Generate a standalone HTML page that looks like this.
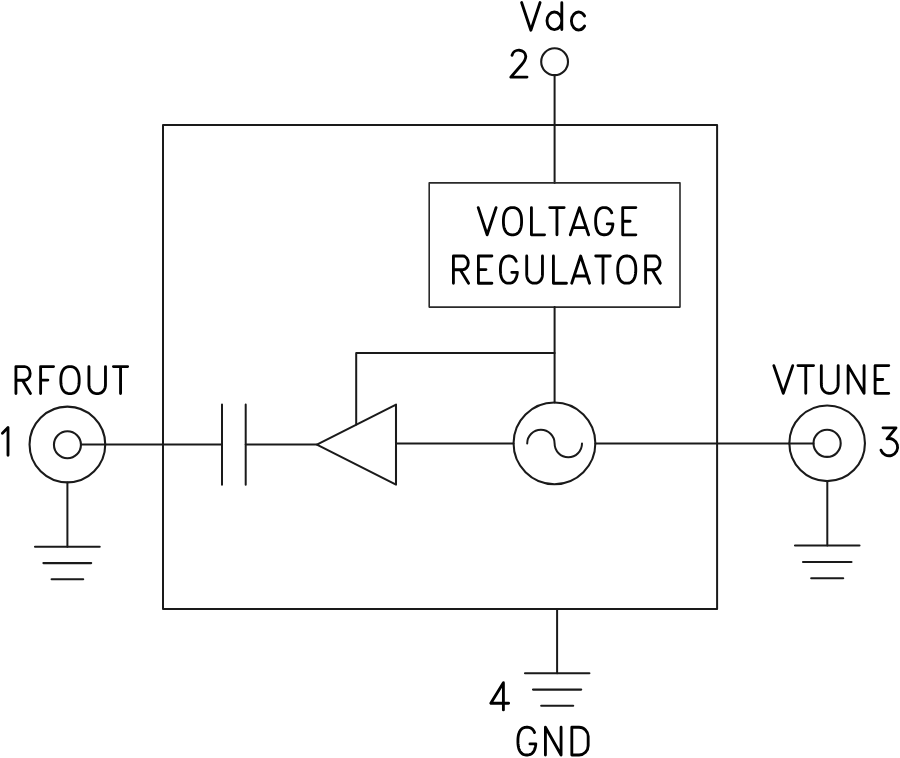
<!DOCTYPE html>
<html><head><meta charset="utf-8"><title>VCO block diagram</title>
<style>html,body{margin:0;padding:0;background:#fff;}svg{display:block;}</style>
</head><body>
<svg width="900" height="758" viewBox="0 0 900 758">
<rect width="900" height="758" fill="#fff"/>

<g fill="none" stroke="#1a1a1a" stroke-width="2.0" stroke-linecap="round" stroke-linejoin="round">
  <!-- main rect -->
  <path d="M163 124.9 H717.1 V609 H163 Z"/>
  <!-- pin 2 -->
  <circle cx="554.6" cy="61.7" r="13.4" stroke-width="2.1"/>
  <path d="M554.6 75.1 V183"/>
  <!-- regulator -->
  <path d="M429.2 182.9 H680 V307.1 H429.2 Z" stroke-width="1.6" stroke="#2a2a2a"/>
  <path d="M554.6 307.1 V402.4"/>
  <path d="M554.6 353.1 H356.2 V424.6"/>
  <!-- oscillator -->
  <circle cx="554.45" cy="443.35" r="40.9" stroke-width="2.05"/>
  <path d="M527.2 443.5 A13.7 13.7 0 0 1 554.6 443.5 A13.7 13.7 0 0 0 582 443.5"/>
  <!-- amplifier -->
  <path d="M396 404.6 L316.9 444.55 L396 484.6 Z" stroke-width="2.05"/>
  <path d="M396 443.4 H513.6"/>
  <path d="M595.3 443.4 H789.3"/>
  <!-- capacitor -->
  <path d="M222 404.6 V484.8 M245.7 404.6 V484.8"/>
  <path d="M80.95 444.6 H222 M245.7 444.6 H316.9"/>
  <!-- RFOUT connector -->
  <circle cx="67.4" cy="444.5" r="37.85" stroke-width="2.1"/>
  <circle cx="67.45" cy="444.7" r="13.5" stroke-width="2.1"/>
  <path d="M67.4 482.4 V546.7"/>
  <path d="M35 546.7 H99.7 M43.4 563.1 H91.2 M51.6 579.3 H83.2" stroke-width="2.1"/>
  <!-- VTUNE connector -->
  <circle cx="827.15" cy="443.3" r="37.8" stroke-width="2.1"/>
  <circle cx="827.1" cy="443.3" r="13.6" stroke-width="2.1"/>
  <path d="M813.5 443.4 H789.3"/>
  <path d="M827.3 481.1 V545.5"/>
  <path d="M795 545.5 H859.5 M803 562 H851.5 M811.2 578.2 H843.2" stroke-width="2.1"/>
  <!-- GND -->
  <path d="M557.1 609 V673.2"/>
  <path d="M525 673.2 H589.4 M533 689.6 H581.2 M541.2 705.8 H573.2" stroke-width="2.1"/>
</g>
<g fill="none" stroke="#000" stroke-width="2.85" stroke-linecap="round" stroke-linejoin="round">
  <path d="M 478.23 207.6 L 487.15 234.8 L 496.07 207.6 M521.58,221.2 L521.55,222.98 L521.46,224.36 L521.32,225.61 L521.12,226.76 L520.86,227.83 L520.55,228.83 L520.19,229.76 L519.77,230.61 L519.3,231.39 L518.78,232.09 L518.21,232.72 L517.59,233.26 L516.93,233.73 L516.21,234.11 L515.44,234.41 L514.61,234.63 L513.69,234.76 L512.5,234.8 L511.31,234.76 L510.39,234.63 L509.56,234.41 L508.79,234.11 L508.07,233.73 L507.41,233.26 L506.79,232.72 L506.22,232.09 L505.7,231.39 L505.23,230.61 L504.81,229.76 L504.45,228.83 L504.14,227.83 L503.88,226.76 L503.68,225.61 L503.54,224.36 L503.45,222.98 L503.43,221.2 L503.45,219.42 L503.54,218.04 L503.68,216.79 L503.88,215.64 L504.14,214.57 L504.45,213.57 L504.81,212.64 L505.23,211.79 L505.7,211.01 L506.22,210.31 L506.79,209.68 L507.41,209.14 L508.07,208.67 L508.79,208.29 L509.56,207.99 L510.39,207.77 L511.31,207.64 L512.5,207.6 L513.69,207.64 L514.61,207.77 L515.44,207.99 L516.21,208.29 L516.93,208.67 L517.59,209.14 L518.21,209.68 L518.78,210.31 L519.3,211.01 L519.77,211.79 L520.19,212.64 L520.55,213.57 L520.86,214.57 L521.12,215.64 L521.32,216.79 L521.46,218.04 L521.55,219.42 L521.58,221.2 Z M 531.42 207.6 L 531.42 234.8 L 544.57 234.8 M 549.72 207.6 L 564.17 207.6 M 556.95 207.6 L 556.95 234.8 M 570.32 234.8 L 579.45 207.6 L 588.57 234.8 M 572.74 227.59 L 586.16 227.59 M611.72,212.82 L611.31,211.91 L610.84,211.07 L610.31,210.32 L609.74,209.66 L609.11,209.09 L608.43,208.61 L607.7,208.22 L606.9,207.92 L606.04,207.72 L605.05,207.62 L603.72,207.61 L602.7,207.7 L601.82,207.88 L601.02,208.16 L600.28,208.54 L599.59,209.01 L598.95,209.57 L598.37,210.22 L597.84,210.95 L597.36,211.77 L596.94,212.67 L596.57,213.66 L596.27,214.73 L596.02,215.88 L595.83,217.12 L595.7,218.48 L595.64,220.02 L595.63,222.11 L595.69,223.7 L595.81,225.08 L595.99,226.34 L596.22,227.5 L596.52,228.58 L596.88,229.58 L597.29,230.5 L597.76,231.33 L598.29,232.08 L598.86,232.74 L599.49,233.31 L600.17,233.79 L600.91,234.18 L601.7,234.48 L602.56,234.68 L603.55,234.78 L604.88,234.79 L605.9,234.7 L606.78,234.52 L607.58,234.23 L608.32,233.86 L609.01,233.39 L609.65,232.83 L610.23,232.18 L610.76,231.45 L611.24,230.63 L611.66,229.72 L612.03,228.74 L612.33,227.67 L612.58,226.52 L612.77,225.28 L612.9,223.92 L 612.97 223.92 L 607.25 223.92 M 635.87 207.6 L 622.72 207.6 L 622.72 234.8 L 635.87 234.8 M 622.72 221.2 L 630.09 221.2"/>
  <path d="M 453.43 283.2 L 453.43 256 L 462.83 256 A 5.44 6.87 0 0 1 462.83 269.74 L 453.43 269.74 M 460.24 269.74 L 468.57 283.2 M 491.88 256 L 478.43 256 L 478.43 283.2 L 491.88 283.2 M 478.43 269.6 L 485.96 269.6 M516.15,261.22 L515.75,260.31 L515.29,259.47 L514.78,258.72 L514.21,258.06 L513.6,257.49 L512.94,257.01 L512.22,256.62 L511.44,256.32 L510.6,256.12 L509.64,256.02 L508.33,256.01 L507.34,256.1 L506.48,256.28 L505.7,256.56 L504.97,256.94 L504.3,257.41 L503.68,257.97 L503.11,258.62 L502.59,259.35 L502.12,260.17 L501.71,261.07 L501.35,262.06 L501.05,263.13 L500.81,264.28 L500.62,265.52 L500.5,266.88 L500.44,268.42 L500.43,270.51 L500.49,272.1 L500.6,273.48 L500.78,274.74 L501.01,275.9 L501.3,276.98 L501.65,277.98 L502.06,278.9 L502.51,279.73 L503.03,280.48 L503.59,281.14 L504.2,281.71 L504.87,282.19 L505.58,282.58 L506.36,282.88 L507.2,283.08 L508.17,283.18 L509.47,283.19 L510.46,283.1 L511.32,282.92 L512.1,282.63 L512.83,282.26 L513.5,281.79 L514.12,281.23 L514.69,280.58 L515.21,279.85 L515.68,279.03 L516.09,278.12 L516.45,277.14 L516.75,276.07 L516.99,274.92 L517.18,273.68 L517.3,272.32 L 517.38 272.32 L 511.78 272.32 M 526.72 256 L526.72,273.95 L526.76,275.14 L526.88,276.17 L527.08,277.13 L527.35,278.03 L527.69,278.88 L528.11,279.66 L528.59,280.37 L529.13,281.01 L529.74,281.58 L530.41,282.07 L531.12,282.47 L531.89,282.79 L532.71,283.02 L533.59,283.15 L534.6,283.2 L535.61,283.15 L536.49,283.02 L537.31,282.79 L538.08,282.47 L538.79,282.07 L539.46,281.58 L540.07,281.01 L540.61,280.37 L541.09,279.66 L541.51,278.88 L541.85,278.03 L542.12,277.13 L542.32,276.17 L542.44,275.14 L542.47,273.95 L 542.47 256 M 553.42 256 L 553.42 283.2 L 566.47 283.2 M 571.72 283.2 L 580.65 256 L 589.57 283.2 M 574.09 275.99 L 587.21 275.99 M 595.72 256 L 610.27 256 M 603 256 L 603 283.2 M635.78,269.6 L635.75,271.38 L635.66,272.76 L635.52,274.01 L635.32,275.16 L635.06,276.23 L634.76,277.23 L634.39,278.16 L633.98,279.01 L633.51,279.79 L632.99,280.49 L632.43,281.12 L631.82,281.66 L631.15,282.13 L630.44,282.51 L629.68,282.81 L628.85,283.03 L627.93,283.16 L626.75,283.2 L625.57,283.16 L624.65,283.03 L623.82,282.81 L623.06,282.51 L622.35,282.13 L621.68,281.66 L621.07,281.12 L620.51,280.49 L619.99,279.79 L619.52,279.01 L619.11,278.16 L618.74,277.23 L618.44,276.23 L618.18,275.16 L617.98,274.01 L617.84,272.76 L617.75,271.38 L617.72,269.6 L617.75,267.82 L617.84,266.44 L617.98,265.19 L618.18,264.04 L618.44,262.97 L618.74,261.97 L619.11,261.04 L619.52,260.19 L619.99,259.41 L620.51,258.71 L621.07,258.08 L621.68,257.54 L622.35,257.07 L623.06,256.69 L623.82,256.39 L624.65,256.17 L625.57,256.04 L626.75,256 L627.93,256.04 L628.85,256.17 L629.68,256.39 L630.44,256.69 L631.15,257.07 L631.82,257.54 L632.43,258.08 L632.99,258.71 L633.51,259.41 L633.98,260.19 L634.39,261.04 L634.76,261.97 L635.06,262.97 L635.32,264.04 L635.52,265.19 L635.66,266.44 L635.75,267.82 L635.78,269.6 Z M 645.62 283.2 L 645.62 256 L 654.64 256 A 5.44 6.87 0 0 1 654.64 269.74 L 645.62 269.74 M 652.26 269.74 L 660.37 283.2"/>
  <path d="M 15.93 393.6 L 15.93 366.6 L 24.78 366.6 A 5.4 6.82 0 0 1 24.78 380.24 L 15.93 380.24 M 22.47 380.24 L 30.48 393.6 M 53.57 366.6 L 40.62 366.6 L 40.62 393.6 M 40.62 380.1 L 47.88 380.1 M79.17,380.1 L79.15,381.87 L79.06,383.24 L78.91,384.48 L78.71,385.62 L78.45,386.69 L78.14,387.68 L77.77,388.59 L77.35,389.44 L76.87,390.21 L76.35,390.91 L75.77,391.53 L75.15,392.08 L74.48,392.54 L73.75,392.92 L72.97,393.22 L72.13,393.43 L71.2,393.56 L70,393.6 L68.8,393.56 L67.87,393.43 L67.03,393.22 L66.25,392.92 L65.52,392.54 L64.85,392.08 L64.23,391.53 L63.65,390.91 L63.13,390.21 L62.65,389.44 L62.23,388.59 L61.86,387.68 L61.55,386.69 L61.29,385.62 L61.09,384.48 L60.94,383.24 L60.85,381.87 L60.83,380.1 L60.85,378.33 L60.94,376.96 L61.09,375.72 L61.29,374.58 L61.55,373.51 L61.86,372.52 L62.23,371.61 L62.65,370.76 L63.13,369.99 L63.65,369.29 L64.23,368.67 L64.85,368.12 L65.52,367.66 L66.25,367.28 L67.03,366.98 L67.87,366.77 L68.8,366.64 L70,366.6 L71.2,366.64 L72.13,366.77 L72.97,366.98 L73.75,367.28 L74.48,367.66 L75.15,368.12 L75.77,368.67 L76.35,369.29 L76.87,369.99 L77.35,370.76 L77.77,371.61 L78.14,372.52 L78.45,373.51 L78.71,374.58 L78.91,375.72 L79.06,376.96 L79.15,378.33 L79.17,380.1 Z M 88.92 366.6 L88.92,384.42 L88.97,385.6 L89.09,386.62 L89.29,387.58 L89.58,388.47 L89.94,389.31 L90.38,390.08 L90.88,390.79 L91.46,391.43 L92.1,391.99 L92.79,392.47 L93.55,392.88 L94.35,393.19 L95.22,393.42 L96.14,393.55 L97.2,393.6 L98.26,393.55 L99.18,393.42 L100.05,393.19 L100.85,392.88 L101.61,392.47 L102.3,391.99 L102.94,391.43 L103.52,390.79 L104.02,390.08 L104.46,389.31 L104.82,388.47 L105.11,387.58 L105.31,386.62 L105.43,385.6 L105.48,384.42 L 105.47 366.6 M 113.42 366.6 L 127.67 366.6 M 120.55 366.6 L 120.55 393.6"/>
  <path d="M 773.82 365.6 L 783.3 393.3 L 792.77 365.6 M 797.92 365.6 L 813.57 365.6 M 805.75 365.6 L 805.75 393.3 M 821.32 365.6 L821.32,383.88 L821.37,385.09 L821.49,386.14 L821.7,387.12 L821.99,388.04 L822.36,388.9 L822.8,389.69 L823.32,390.42 L823.9,391.07 L824.55,391.65 L825.26,392.15 L826.03,392.56 L826.85,392.88 L827.73,393.11 L828.67,393.25 L829.75,393.3 L830.83,393.25 L831.77,393.11 L832.65,392.88 L833.47,392.56 L834.24,392.15 L834.95,391.65 L835.6,391.07 L836.18,390.42 L836.7,389.69 L837.14,388.9 L837.51,388.04 L837.8,387.12 L838.01,386.14 L838.13,385.09 L838.18,383.88 L 838.17 365.6 M 848.12 393.3 L 848.12 365.6 L 864.07 393.3 L 864.07 365.6 M 888.77 365.6 L 875.12 365.6 L 875.12 393.3 L 888.77 393.3 M 875.12 379.45 L 882.77 379.45"/>
  <path d="M534.58,732.54 L534.15,731.6 L533.66,730.75 L533.12,729.98 L532.53,729.31 L531.88,728.72 L531.17,728.23 L530.41,727.83 L529.59,727.53 L528.7,727.32 L527.68,727.22 L526.3,727.21 L525.25,727.3 L524.34,727.49 L523.51,727.78 L522.74,728.16 L522.03,728.64 L521.37,729.21 L520.77,729.87 L520.22,730.63 L519.72,731.46 L519.29,732.39 L518.91,733.39 L518.59,734.48 L518.33,735.66 L518.14,736.93 L518,738.32 L517.94,739.89 L517.93,742.03 L517.99,743.66 L518.11,745.07 L518.3,746.35 L518.55,747.54 L518.85,748.65 L519.22,749.67 L519.65,750.6 L520.14,751.45 L520.68,752.22 L521.27,752.89 L521.92,753.48 L522.63,753.97 L523.39,754.37 L524.21,754.67 L525.1,754.88 L526.12,754.98 L527.5,754.99 L528.55,754.9 L529.46,754.71 L530.29,754.42 L531.06,754.04 L531.77,753.56 L532.43,752.99 L533.04,752.32 L533.58,751.57 L534.08,750.73 L534.52,749.81 L534.89,748.8 L535.21,747.71 L535.47,746.54 L535.66,745.27 L535.8,743.88 L 535.87 743.88 L 529.95 743.88 M 545.42 755 L 545.42 727.2 L 561.07 755 L 561.07 727.2 M 571.82 727.2 L 579.02 727.2 A 9.16 9.17 0 0 1 588.17 736.37 L 588.17 745.83 A 9.16 9.17 0 0 1 579.02 755 L 571.82 755 Z"/>
  <path d="M 2.4 433.14 L 8 427.6 L 8 455.3"/>
  <path d="M 503.4 709.9 L 503.4 682.7 L 490.8 703.2 L 508.6 703.2"/>
  <path d="M 512 55.3 A 7 6.6 0 0 1 525.8 56.3 C 525.8 60.5 523.5 62.5 520.5 66 L 510.8 77.1 L 527 77.1"/>
  <path d="M 883 427.8 L 896 427.8 L 887 438.8 A 8.6 8.6 0 1 1 881 450.2"/>
  <path d="M 521.6 2.5 L 530.85 30.2 L 540.1 2.5"/>
  <path d="M 561.8 2.7 L 561.8 29.6 M 561.8 20.8 A 7.4 8.8 0 1 0 547 20.8 A 7.4 8.8 0 1 0 561.8 20.8"/>
  <path d="M 584.6 16 A 7.2 9 0 1 0 584.6 26"/>
</g>
</svg>
</body></html>
